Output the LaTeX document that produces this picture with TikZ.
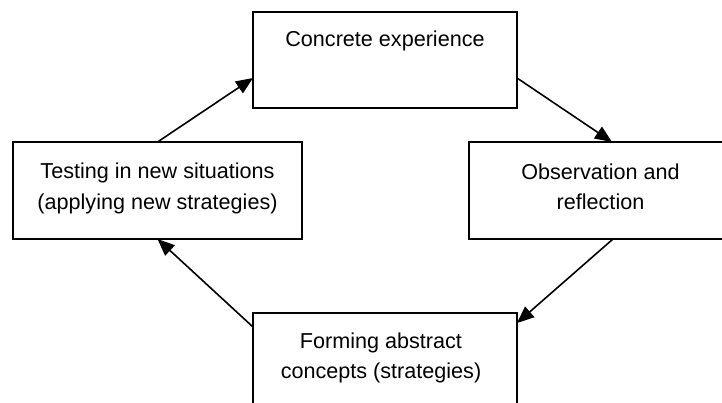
\documentclass[tikz,border=0pt]{standalone}
\usepackage{fontspec}
\setmainfont{Liberation Sans}
\usetikzlibrary{arrows.meta,calc}
\begin{document}
\begin{tikzpicture}[x=1pt,y=-1pt,
  box/.style={draw=black,line width=1.6pt,fill=white,inner sep=0pt,outer sep=0pt},
  lbl/.style={font=\fontsize{21.6}{30.5}\selectfont,align=center,anchor=base,inner sep=0pt},
  conn/.style={line width=1.6pt,-{Triangle[length=17pt,width=14pt]}}]
\clip (0,0) rectangle (722,403);
\fill[white] (0,0) rectangle (722,403);
\node[box,minimum width=264pt,minimum height=96pt] (top) at (385,60) {};
\node[box,minimum width=254pt,minimum height=97pt] (right) at (596,190.5) {};
\node[box,minimum width=289pt,minimum height=97pt] (left) at (157.5,190.5) {};
\node[box,minimum width=264pt,minimum height=97pt] (bottom) at (385,361.5) {};
\node[lbl] (ttop) at (385,47) {Concrete experience};
\node[lbl] (tright) at (600.5,210) {Observation and\\reflection};
\node[lbl] (tleft) at (157.5,209.5) {Testing in new situations\\(applying new strategies)};
\node[lbl] (tbottom) at (381,378.5) {Forming abstract\\concepts (strategies)};
\draw[conn] (left.north) -- ($(top.north west)+(0,66)$);
\draw[conn] ($(top.north east)+(0,66)$) -- ($(right.north west)+(143,0)$);
\draw[conn] ($(right.south west)+(144,0)$) -- ($(bottom.north east)+(0,10)$);
\draw[conn] ($(bottom.north west)+(0,14)$) -- (left.south);
\end{tikzpicture}
\end{document}
